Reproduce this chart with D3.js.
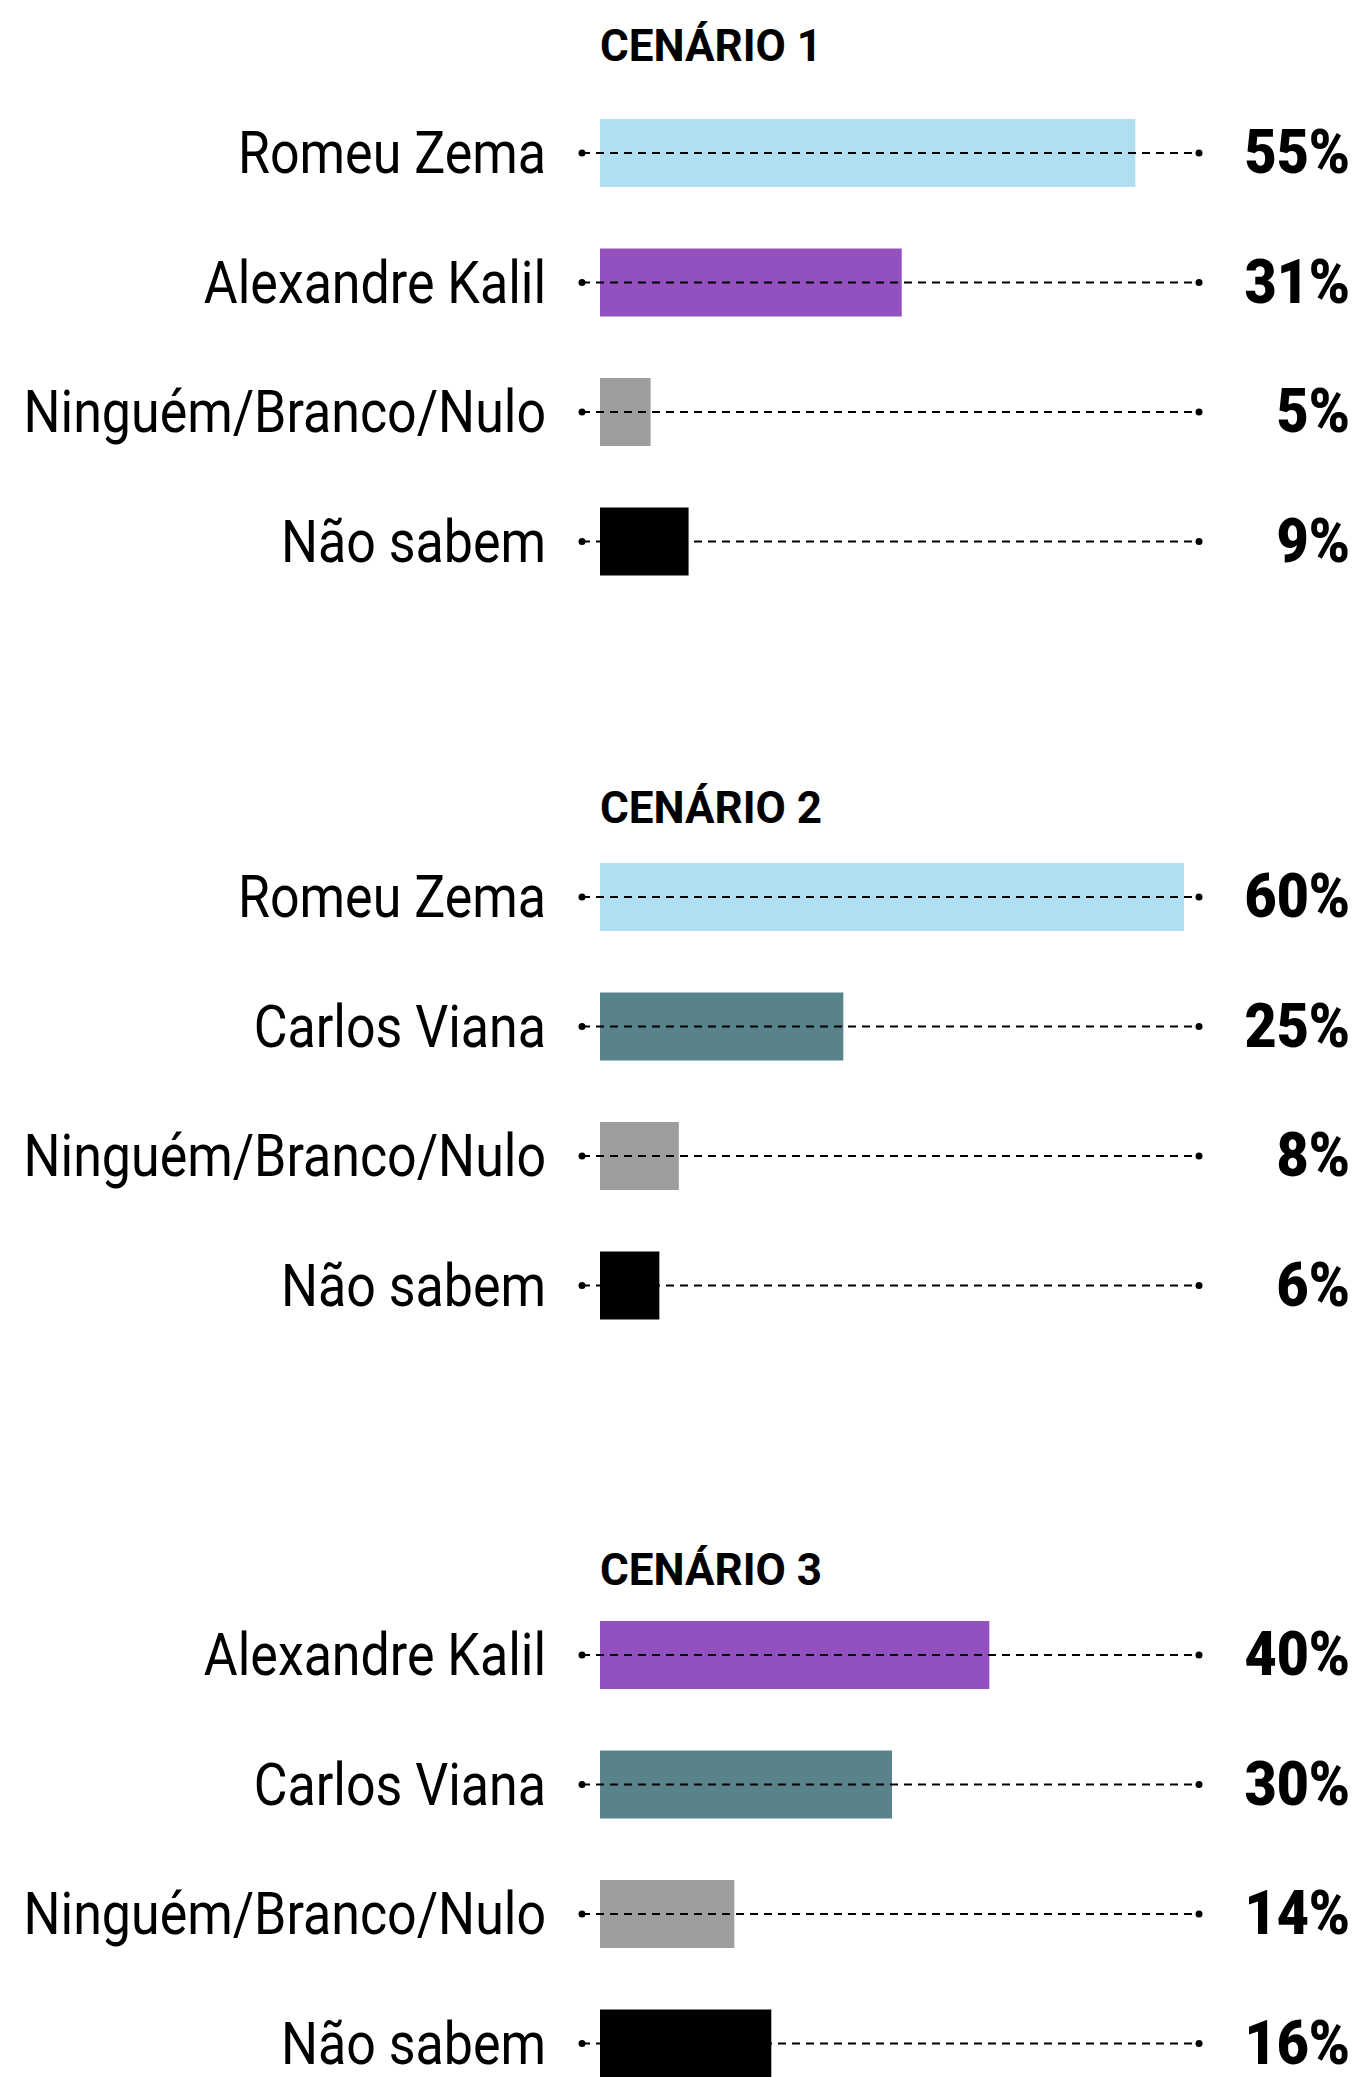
<!DOCTYPE html>
<html>
<head>
<meta charset="utf-8">
<script src="https://cdn.jsdelivr.net/npm/d3@7"></script>
<style>
  html, body { margin: 0; padding: 0; background: #ffffff; }
</style>
</head>
<body>
<div id="chart"></div>
<script>
// ---------- data ----------
const scenarioTitles = ["CENÁRIO 1", "CENÁRIO 2", "CENÁRIO 3"];

const c1Names = ["Romeu Zema", "Alexandre Kalil", "Ninguém/Branco/Nulo", "Não sabem"];
const c1Values = [55, 31, 5.2, 9.1];
const c1Labels = ["55%", "31%", "5%", "9%"];

const c2Names = ["Romeu Zema", "Carlos Viana", "Ninguém/Branco/Nulo", "Não sabem"];
const c2Values = [60, 25, 8.1, 6.1];
const c2Labels = ["60%", "25%", "8%", "6%"];

const c3Names = ["Alexandre Kalil", "Carlos Viana", "Ninguém/Branco/Nulo", "Não sabem"];
const c3Values = [40, 30, 13.8, 17.6];   // bar drawn longer than its 16% label in the source
const c3Labels = ["40%", "30%", "14%", "16%"];

const nameColors = {
    "Romeu Zema": "#b0dff2",
    "Alexandre Kalil": "#9351bf",
    "Carlos Viana": "#59838a",
    "Ninguém/Branco/Nulo": "#9e9e9e",
    "Não sabem": "#000000"
};

const scenarios = [
    { title: scenarioTitles[0], names: c1Names, values: c1Values, labels: c1Labels },
    { title: scenarioTitles[1], names: c2Names, values: c2Values, labels: c2Labels },
    { title: scenarioTitles[2], names: c3Names, values: c3Values, labels: c3Labels }
];

// ---------- layout ----------
const width = 1358;
const height = 2077;
const titleY = [61, 823, 1585];
const firstRowY = [153, 897, 1655];
const rowStep = 129.5;
const barHeight = 68;
const barX0 = 600;
const lineX0 = 582;
const lineX1 = 1199;
const labelRight = 546;
const valueRight = 1350;
const labelScaleX = 0.88;
const valueScaleX = 0.91;

const svg = d3.select("#chart")
    .append("svg")
    .attr("width", width)
    .attr("height", height)
    .attr("viewBox", `0 0 ${width} ${height}`);

svg.append("rect")
    .attr("width", width)
    .attr("height", height)
    .attr("fill", "#ffffff");

const x = d3.scaleLinear()
    .domain([0, 60])
    .range([barX0, barX0 + 584]);

scenarios.forEach((sc, s) => {
    const g = svg.append("g");
    const idx = d3.range(sc.names.length);

    const y = d3.scalePoint()
        .domain(idx)
        .range([firstRowY[s], firstRowY[s] + rowStep * (idx.length - 1)]);

    // title
    g.append("text")
        .attr("x", barX0)
        .attr("y", titleY[s])
        .attr("font-family", "Roboto, sans-serif")
        .attr("font-weight", 700)
        .attr("font-size", 44)
        .attr("fill", "#000")
        .text(sc.title);

    // bars
    g.selectAll("rect.bar")
        .data(idx)
        .join("rect")
        .attr("class", "bar")
        .attr("x", x(0))
        .attr("y", i => y(i) - barHeight / 2)
        .attr("width", i => x(sc.values[i]) - x(0))
        .attr("height", barHeight)
        .attr("fill", i => nameColors[sc.names[i]]);

    // dashed guide lines
    g.selectAll("line.guide")
        .data(idx)
        .join("line")
        .attr("class", "guide")
        .attr("x1", lineX0)
        .attr("x2", lineX1)
        .attr("y1", i => y(i))
        .attr("y2", i => y(i))
        .attr("stroke", "#000")
        .attr("stroke-width", 2)
        .attr("stroke-dasharray", "8,6");

    [lineX0, lineX1].forEach(cx => {
        g.selectAll(null)
            .data(idx)
            .join("circle")
            .attr("cx", cx)
            .attr("cy", i => y(i))
            .attr("r", 3.5)
            .attr("fill", "#000");
    });

    // names
    g.selectAll("g.name")
        .data(idx)
        .join("g")
        .attr("class", "name")
        .attr("transform", i => `translate(${labelRight},${y(i) + 20}) scale(${labelScaleX},1)`)
        .append("text")
        .attr("text-anchor", "end")
        .attr("font-family", "Roboto, sans-serif")
        .attr("font-weight", 400)
        .attr("font-size", 59)
        .attr("fill", "#000")
        .text(i => sc.names[i]);

    // values
    g.selectAll("g.value")
        .data(idx)
        .join("g")
        .attr("class", "value")
        .attr("transform", i => `translate(${valueRight},${y(i) + 20}) scale(${valueScaleX},1)`)
        .append("text")
        .attr("text-anchor", "end")
        .attr("font-family", "Roboto, sans-serif")
        .attr("font-weight", 900)
        .attr("font-size", 61)
        .attr("fill", "#000")
        .text(i => sc.labels[i]);
});
</script>
</body>
</html>
